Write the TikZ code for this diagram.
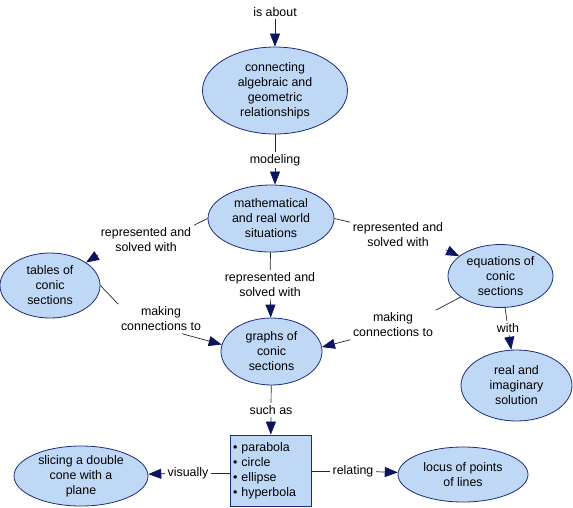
\documentclass[tikz,border=0pt]{standalone}
\usepackage{fontspec}
\setmainfont{Liberation Sans}
\usetikzlibrary{shapes.geometric,arrows.meta}
\definecolor{cfill}{HTML}{BFD8F6}
\definecolor{cedge}{HTML}{1F2C7A}
\definecolor{carrow}{HTML}{0B145E}
\begin{document}
\begin{tikzpicture}[x=1pt,y=-1pt,
 concept/.style={ellipse,draw=cedge,fill=cfill,line width=0.8pt,inner sep=0pt},
 ctext/.style={font=\fontsize{12.4}{15}\selectfont,align=center,inner sep=0pt},
 linklabel/.style={font=\fontsize{12.4}{15}\selectfont,align=center,inner sep=2.5pt},
 conn/.style={draw=black!85,line width=0.7pt},
 arr/.style={conn,-{Triangle[length=13pt,width=10pt,color=carrow]}}]
\useasboundingbox (0,0) rectangle (573,507);

% concepts
\node[concept,minimum width=145pt,minimum height=87pt,
  label={[ctext]center:connecting\\algebraic and\\geometric\\relationships}] (c1) at (275,90.5) {};
\node[concept,minimum width=126pt,minimum height=67pt,
  label={[ctext]center:mathematical\\and real world\\situations}] (m2) at (271,218.5) {};
\node[concept,minimum width=100pt,minimum height=65pt,
  label={[ctext]center:tables of\\conic\\sections}] (tables) at (50,285.5) {};
\node[concept,minimum width=105pt,minimum height=63pt,
  label={[ctext]center:equations of\\conic\\sections}] (eq) at (500.5,276) {};
\node[concept,minimum width=101pt,minimum height=67pt,
  label={[ctext]center:graphs of\\conic\\sections}] (graphs) at (271.5,351.5) {};
\node[concept,minimum width=111pt,minimum height=71pt,
  label={[ctext]center:real and\\imaginary\\solution}] (real) at (516.5,385.5) {};
\node[concept,minimum width=134pt,minimum height=60pt,
  label={[ctext]center:slicing a double\\cone with a\\plane}] (slicing) at (81,476) {};
\node[concept,minimum width=130pt,minimum height=55pt,
  label={[ctext]center:locus of points\\of lines}] (locus) at (463,474.5) {};
\node[draw=cedge,fill=cfill,line width=0.8pt,rectangle,minimum height=71pt,
  text width=75pt,inner xsep=3pt,inner ysep=0pt,align=left,
  font=\fontsize{12.4}{15}\selectfont] (box) at (270.5,470.5)
  {• parabola\\• circle\\• ellipse\\• hyperbola};

% linking phrases
\node[linklabel] (isabout) at (275,12) {is about};
\node[linklabel] (modeling) at (275,160) {modeling};
\node[linklabel] (lblL) at (146,240) {represented and\\solved with};
\node[linklabel] (lblM) at (270,284.5) {represented and\\solved with};
\node[linklabel] (lblR) at (398,235) {represented and\\solved with};
\node[linklabel] (mkL) at (161,319) {making\\connections to};
\node[linklabel] (mkR) at (393,325) {making\\connections to};
\node[linklabel] (with) at (508,328) {with};
\node[linklabel] (suchas) at (271,410) {such as};
\node[linklabel] (visually) at (188,473) {visually};
\node[linklabel] (relating) at (353,471) {relating};

% connectors
\draw[arr] (isabout.south) -- (isabout.south |- c1.north);
\draw[conn] (c1.south -| modeling) -- (modeling.north);
\draw[arr] (modeling.south) -- (modeling.south |- m2.north);

\draw[conn] (m2.west) -- (lblL.north east);
\draw[arr] (lblL.south west) -- (tables);

\draw[conn] (m2) -- (lblM);
\draw[arr] (lblM) -- (graphs);

\draw[conn] (m2.east) -- (lblR.165);
\draw[arr] (lblR.south east) -- (eq);

\draw[conn] (tables.east) -- (mkL.north west);
\draw[arr] (mkL.-35) -- (graphs.172);

\draw[conn] (eq) -- (mkR.north east);
\draw[arr] (mkR.south west) -- (graphs.5);

\draw[conn] (eq) -- (with);
\draw[arr] (with) -- (real);

\draw[conn] (graphs) -- (suchas);
\draw[arr] (suchas) -- (box);

\draw[conn] (box.west |- visually) -- (visually);
\draw[arr] (visually) -- (slicing);

\draw[conn] (box.east |- relating) -- (relating);
\draw[arr] (relating) -- (locus);
\end{tikzpicture}
\end{document}
